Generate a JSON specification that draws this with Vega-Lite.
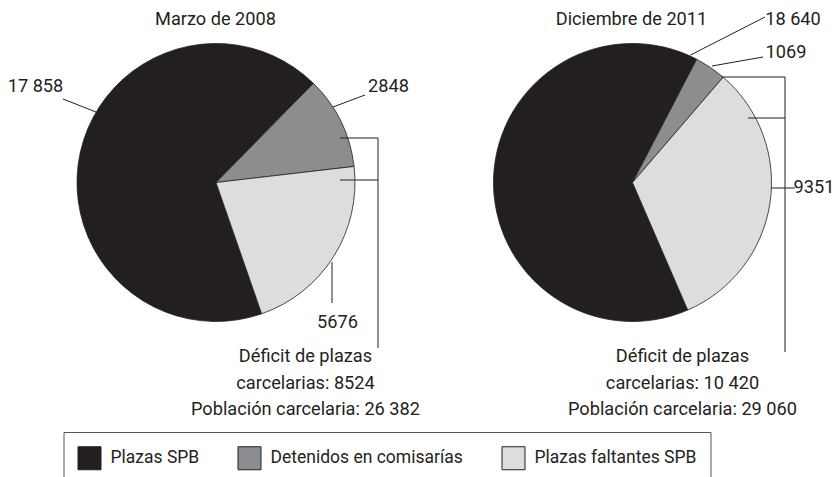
{
  "$schema": "https://vega.github.io/schema/vega-lite/v6.json",
  "width": 836,
  "height": 477,
  "autosize": "none",
  "padding": 0,
  "background": "white",
  "config": {
    "view": {"stroke": null},
    "font": "Roboto",
    "text": {"font": "Roboto", "fontSize": 18.2, "color": "#231f20"},
    "legend": {
      "orient": "none",
      "legendX": 63.5,
      "legendY": 432,
      "direction": "horizontal",
      "strokeColor": "#555555",
      "padding": 14,
      "symbolType": "square",
      "symbolSize": 529,
      "symbolStrokeColor": "#231f20",
      "symbolStrokeWidth": 1,
      "symbolOpacity": 1,
      "labelFont": "Roboto",
      "labelFontSize": 17.5,
      "labelColor": "#231f20",
      "labelOffset": 9,
      "columnPadding": 36,
      "labelLimit": 400
    }
  },
  "datasets": {
    "pies": [
      {"periodo": "Marzo de 2008", "categoria": "Plazas SPB", "valor": 17858, "orden": 3},
      {"periodo": "Marzo de 2008", "categoria": "Detenidos en comisarías", "valor": 2848, "orden": 1},
      {"periodo": "Marzo de 2008", "categoria": "Plazas faltantes SPB", "valor": 5676, "orden": 2},
      {"periodo": "Diciembre de 2011", "categoria": "Plazas SPB", "valor": 18640, "orden": 3},
      {"periodo": "Diciembre de 2011", "categoria": "Detenidos en comisarías", "valor": 1069, "orden": 1},
      {"periodo": "Diciembre de 2011", "categoria": "Plazas faltantes SPB", "valor": 9351, "orden": 2}
    ],
    "lineas": [
      {"x": 63, "y": 99, "x2": 96, "y2": 112},
      {"x": 333, "y": 107, "x2": 365, "y2": 95},
      {"x": 332, "y": 262, "x2": 332, "y2": 303},
      {"x": 340, "y": 138, "x2": 378, "y2": 138},
      {"x": 340, "y": 180, "x2": 378, "y2": 180},
      {"x": 378, "y": 138, "x2": 378, "y2": 348},
      {"x": 690.5, "y": 55, "x2": 765, "y2": 17},
      {"x": 712, "y": 66, "x2": 763, "y2": 57},
      {"x": 722, "y": 77, "x2": 785, "y2": 77},
      {"x": 748, "y": 118, "x2": 785, "y2": 118},
      {"x": 785, "y": 77, "x2": 785, "y2": 352},
      {"x": 771, "y": 188, "x2": 795, "y2": 188}
    ],
    "textos": [
      {"texto": "Marzo de 2008", "x": 215.5, "y": 20},
      {"texto": "Diciembre de 2011", "x": 631.5, "y": 20},
      {"texto": "17 858", "x": 35.5, "y": 87},
      {"texto": "2848", "x": 388.5, "y": 87},
      {"texto": "5676", "x": 337.5, "y": 323},
      {"texto": "Déficit de plazas", "x": 305.5, "y": 357},
      {"texto": "carcelarias: 8524", "x": 305.5, "y": 383.5},
      {"texto": "Población carcelaria: 26 382", "x": 305.5, "y": 409.5},
      {"texto": "18 640", "x": 793, "y": 20},
      {"texto": "1069", "x": 786, "y": 53},
      {"texto": "9351", "x": 814, "y": 188},
      {"texto": "Déficit de plazas", "x": 682.5, "y": 357},
      {"texto": "carcelarias: 10 420", "x": 682.5, "y": 383.5},
      {"texto": "Población carcelaria: 29 060", "x": 682.5, "y": 409.5}
    ]
  },
  "layer": [
    {
      "data": {"name": "pies"},
      "transform": [{"filter": "datum.periodo === 'Marzo de 2008'"}],
      "mark": {"type": "arc", "outerRadius": 139, "stroke": "#231f20", "strokeWidth": 0.8},
      "encoding": {
        "theta": {"field": "valor", "type": "quantitative", "stack": true, "scale": {"range": [0.7767, 7.0599]}},
        "order": {"field": "orden", "type": "quantitative"},
        "color": {
          "field": "categoria",
          "type": "nominal",
          "title": null,
          "scale": {"domain": ["Plazas SPB", "Detenidos en comisarías", "Plazas faltantes SPB"], "range": ["#231f20", "#8c8d8f", "#dcdddf"]}
        },
        "x": {"field": "periodo", "type": "nominal", "axis": null, "scale": {"type": "point", "domain": ["Marzo de 2008", "Diciembre de 2011"], "range": [216, 632.5], "padding": 0}},
        "y": {"field": "periodo", "type": "nominal", "axis": null, "scale": {"type": "point", "domain": ["Marzo de 2008", "Diciembre de 2011"], "range": [182.5, 182.5], "padding": 0}}
      }
    },
    {
      "data": {"name": "pies"},
      "transform": [{"filter": "datum.periodo === 'Diciembre de 2011'"}],
      "mark": {"type": "arc", "outerRadius": 139, "stroke": "#231f20", "strokeWidth": 0.8},
      "encoding": {
        "theta": {"field": "valor", "type": "quantitative", "stack": true, "scale": {"range": [0.48, 6.7632]}},
        "order": {"field": "orden", "type": "quantitative"},
        "color": {"field": "categoria", "type": "nominal", "title": null},
        "x": {"field": "periodo", "type": "nominal", "axis": null, "scale": {"type": "point", "domain": ["Marzo de 2008", "Diciembre de 2011"], "range": [216, 632.5], "padding": 0}},
        "y": {"field": "periodo", "type": "nominal", "axis": null, "scale": {"type": "point", "domain": ["Marzo de 2008", "Diciembre de 2011"], "range": [182.5, 182.5], "padding": 0}}
      }
    },
    {
      "layer": [
        {
          "data": {"name": "lineas"},
          "mark": {"type": "rule", "color": "#231f20", "strokeWidth": 1},
          "encoding": {
            "x": {"field": "x", "type": "quantitative", "axis": null, "scale": {"domain": [0, 836], "range": [0, 836], "nice": false, "zero": false}},
            "y": {"field": "y", "type": "quantitative", "axis": null, "scale": {"domain": [0, 477], "range": [0, 477], "nice": false, "zero": false}},
            "x2": {"field": "x2"},
            "y2": {"field": "y2"}
          }
        },
        {
          "data": {"name": "textos"},
          "mark": {"type": "text", "align": "center", "baseline": "middle"},
          "encoding": {
            "x": {"field": "x", "type": "quantitative", "axis": null},
            "y": {"field": "y", "type": "quantitative", "axis": null},
            "text": {"field": "texto"}
          }
        }
      ]
    }
  ],
  "resolve": {"scale": {"x": "independent", "y": "independent", "theta": "independent"}}
}
